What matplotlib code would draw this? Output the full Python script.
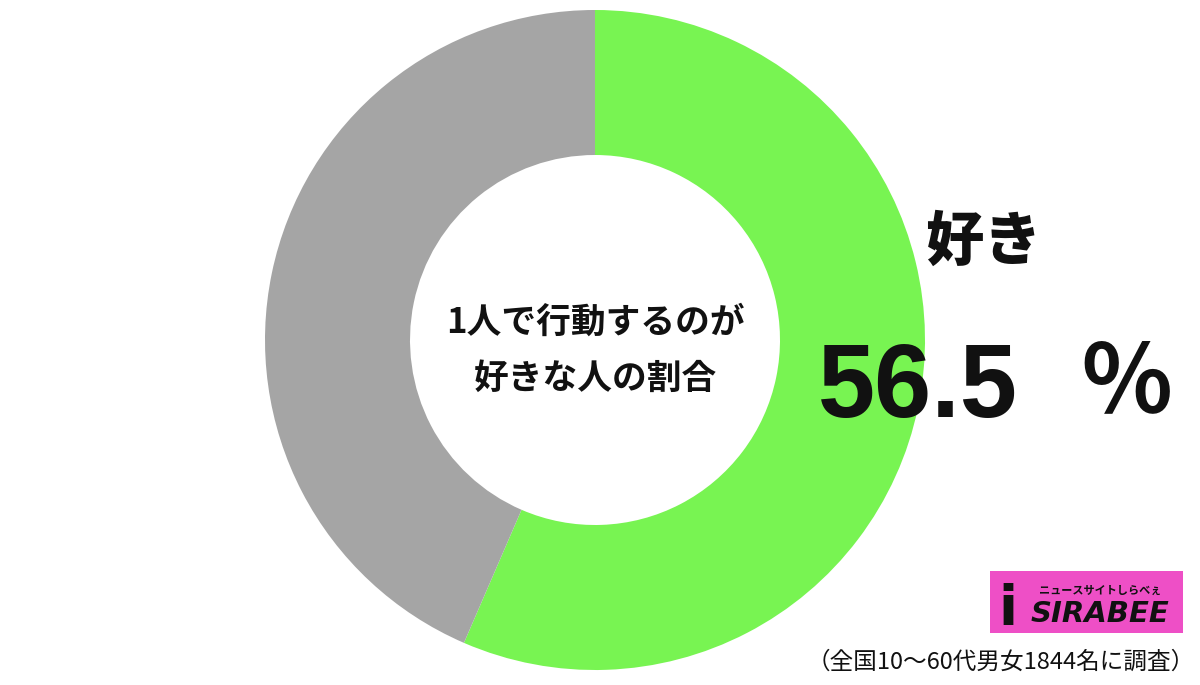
import matplotlib.pyplot as plt
from matplotlib.patches import Rectangle

plt.rcParams['font.family'] = ['Noto Sans CJK JP', 'DejaVu Sans']

labels = ["好き", "その他"]
values = [56.5, 43.5]
colors = ["#78f452", "#a5a5a5"]
center_title = "1人で行動するのが\n好きな人の割合"
label_text = "好き"
pct_text = "56.5"
note = "（全国10〜60代男女1844名に調査）"

fig = plt.figure(figsize=(12, 6.85), dpi=100)
ax = fig.add_axes([0, 0, 1, 1])

# y axis runs downward, so start at 270 and go counterclockwise in data
# to get clockwise from the top on screen
ax.pie(values, colors=colors, startangle=270, counterclock=True,
       center=(595, 340), radius=330,
       wedgeprops=dict(width=330 - 185, edgecolor='none'))
ax.set_xlim(0, 1200)
ax.set_ylim(685, 0)
ax.set_aspect('equal')
ax.axis('off')

ax.text(595, 350, center_title, ha='center', va='center', fontsize=25,
        fontweight='bold', linespacing=1.75, color='#111111')

ax.text(983, 243, label_text, ha='center', va='center', fontsize=42,
        fontweight='black', color='#111111')
ax.text(818, 390, pct_text, ha='left', va='center', fontsize=74,
        fontweight='bold', family=['Liberation Sans', 'DejaVu Sans'], color='#111111')
ax.text(1174, 384, "％", ha='right', va='center', fontsize=68,
        fontweight='bold', color='#111111')

# logo
ax.add_patch(Rectangle((990, 571), 193, 62, facecolor='#ee4fc6', edgecolor='none'))
ax.text(1008, 610, "i", ha='center', va='center', fontsize=40, fontweight='bold',
        family=['DejaVu Sans'], color='#111111')
ax.text(1100, 590, "ニュースサイトしらべぇ", ha='center', va='center', fontsize=8,
        fontweight='bold', color='#111111')
ax.text(1100, 614, "SIRABEE", ha='center', va='center', fontsize=21,
        fontweight='bold', style='italic', family=['DejaVu Sans'], color='#111111')

ax.text(1195, 662, note, ha='right', va='center', fontsize=17, color='#111111')

fig.savefig("out.png", dpi=100)
